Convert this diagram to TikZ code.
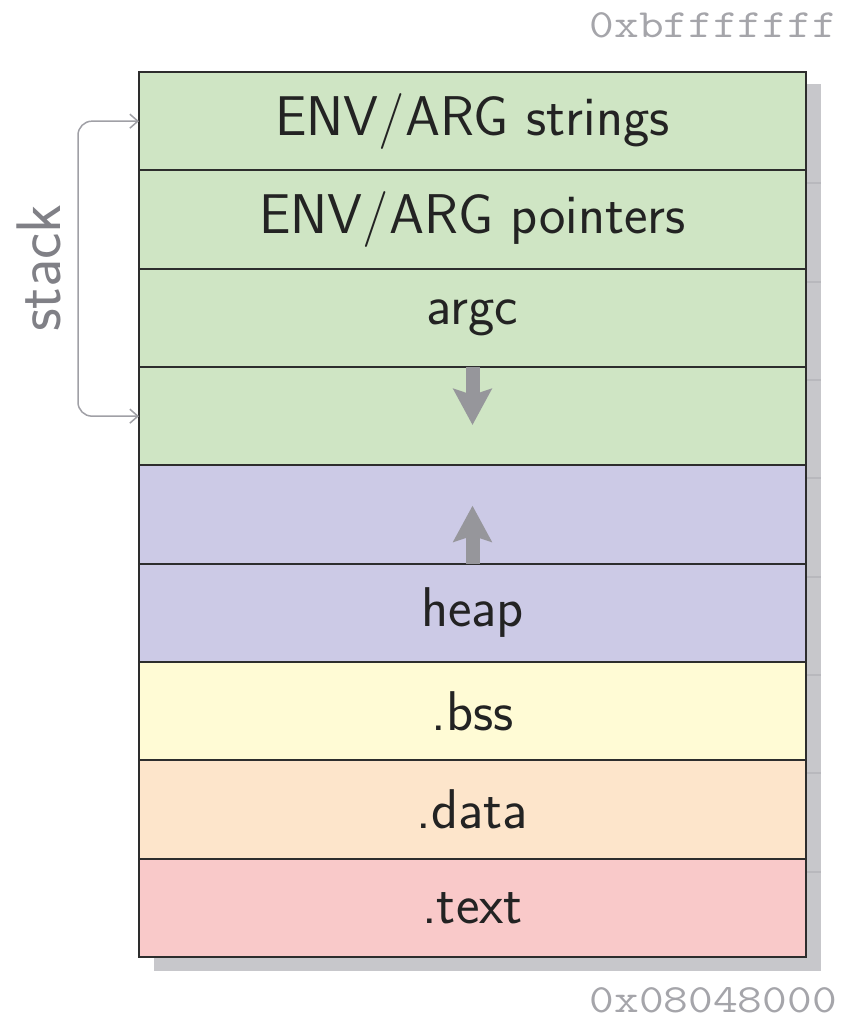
\documentclass[tikz,border=0pt]{standalone}
\usetikzlibrary{arrows.meta}
\definecolor{stackc}{RGB}{207,229,196}
\definecolor{heapc}{RGB}{204,202,230}
\definecolor{bssc}{RGB}{255,251,213}
\definecolor{datac}{RGB}{253,229,203}
\definecolor{textc}{RGB}{249,201,201}
\definecolor{shadowc}{RGB}{178,178,184}
\definecolor{linec}{RGB}{45,45,45}
\definecolor{txtc}{RGB}{35,35,35}
\definecolor{addrc}{RGB}{165,165,170}
\definecolor{arrowc}{RGB}{150,150,155}
\definecolor{bracec}{RGB}{160,160,166}
\definecolor{stacklbl}{RGB}{128,128,134}
\tikzset{
  seg/.style={draw=linec, line width=1.8pt, minimum width=667pt, minimum height=98.33pt,
    inner sep=0pt, outer sep=0pt, anchor=north west, text=txtc,
    font=\sffamily\fontsize{56}{60}\selectfont},
  addr/.style={text=addrc, font=\ttfamily\fontsize{40}{44}\selectfont, inner sep=0pt, anchor=base east},
  growarrow/.style={draw=arrowc, line width=14pt, -{Stealth[length=36pt, width=38pt, inset=6pt]}},
  bracket/.style={draw=bracec, line width=1.5pt, rounded corners=14pt, {Straight Barb[length=8pt,width=14pt]}-{Straight Barb[length=8pt,width=14pt]}}
}
\begin{document}
\begin{tikzpicture}[x=1pt,y=-1pt]
\useasboundingbox (0,0) rectangle (844,1023);
% shadows
\foreach \i in {0,...,8}{
  \fill[shadowc, opacity=0.73] (154,{72+\i*98.33+12}) rectangle (821,{72+(\i+1)*98.33+14});
}
\node[seg, fill=stackc] (r1) at (139,72) {ENV/ARG strings};
\node[seg, fill=stackc] (r2) at (139,170.33) {ENV/ARG pointers};
\node[seg, fill=stackc] (r3) at (139,268.67) {argc};
\node[seg, fill=stackc] (r4) at (139,367) {};
\node[seg, fill=heapc] (r5) at (139,465.33) {};
\node[seg, fill=heapc] (r6) at (139,563.67) {heap};
\node[seg, fill=bssc] (r7) at (139,662) {.bss};
\node[seg, fill=datac] (r8) at (139,760.33) {.data};
\node[seg, fill=textc] (r9) at (139,858.67) {.text};
% growth arrows
\draw[growarrow] (r4.north) -- ++(0,58);
\draw[growarrow] (r6.north) -- ++(0,-58);
% stack bracket
\draw[bracket] (r1.west) -- ++(-61,0) |- (r4.west);
\node[text=stacklbl, font=\sffamily\fontsize{63}{66}\selectfont, rotate=90, inner sep=0pt, anchor=base] (stk) at (60,268) {stack};
% addresses
\node[addr] (top) at (837,37) {\scalebox{1.2}[1]{0xbfffffff}};
\node[addr] (bot) at (837,1012) {\scalebox{1.2}[1]{0x08048000}};
\end{tikzpicture}
\end{document}
